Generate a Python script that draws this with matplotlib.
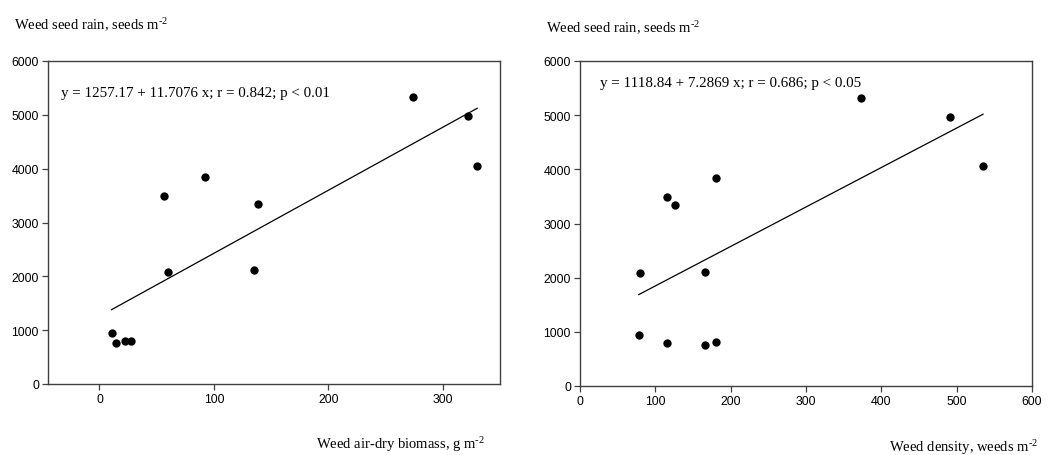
"""Weed seed rain vs weed biomass and weed density (two scatter panels with fit lines)."""
import numpy as np
import matplotlib
matplotlib.use("Agg")
import matplotlib.pyplot as plt

plt.rcParams["mathtext.fontset"] = "custom"
plt.rcParams["mathtext.rm"] = "Liberation Serif"
plt.rcParams["mathtext.it"] = "Liberation Serif:italic"

# --- data ---
seed_rain = [942, 756, 805, 805, 3494, 3842, 3346, 2082, 2113, 5322, 4976, 4052]
biomass = [10.5, 14.8, 22.6, 27.9, 56.6, 92.6, 138.5, 59.8, 134.8, 273.8, 321.7, 330.1]
seed_rain_d = [942, 760, 800, 810, 3489, 3834, 3341, 2080, 2110, 5311, 4971, 4056]
density = [78, 166, 116, 180, 116, 181, 126, 79, 166, 373, 491, 535]

# regression coefficients printed on the chart (intercept, slope)
fit_biomass = (1257.17, 11.7076)
fit_density = (1118.84, 7.2869)
eq_biomass = "y = 1257.17 + 11.7076 x; r = 0.842; p < 0.01"
eq_density = "y = 1118.84 + 7.2869 x; r = 0.686; p < 0.05"

W, H = 1050, 456
fig = plt.figure(figsize=(W / 100, H / 100), dpi=100)

SERIF = "Liberation Serif"
SANS = "Liberation Sans"
SUP = r"$^{\text{-}2}$"


def panel(rect, x, y, fit, eq, xlim, xticks, eq_pos):
    ax = fig.add_axes(rect)
    ax.scatter(x, y, s=36, color="black", zorder=3, linewidths=0)
    xs = np.array([min(x), max(x)])
    ax.plot(xs, fit[0] + fit[1] * xs, color="black", lw=0.9)
    ax.set_xlim(*xlim)
    ax.set_ylim(0, 6000)
    ax.set_xticks(xticks)
    ax.set_yticks(range(0, 6001, 1000))
    for sp in ax.spines.values():
        sp.set_color("0.25")
        sp.set_linewidth(1.0)
    ax.tick_params(direction="out", length=4, width=0.9, color="0.25",
                   labelsize=8.8, pad=2.5)
    for lab in ax.get_xticklabels() + ax.get_yticklabels():
        lab.set_fontfamily(SANS)
    ax.text(eq_pos[0], eq_pos[1], eq, transform=ax.transAxes,
            fontfamily=SERIF, fontsize=10.8, va="center", ha="left")
    return ax


panel([48 / W, (H - 385) / H, 452 / W, 323 / H], biomass, seed_rain,
      fit_biomass, eq_biomass, (-45, 350), [0, 100, 200, 300], (0.029, 0.901))
panel([580 / W, (H - 387) / H, 452 / W, 325 / H], density, seed_rain_d,
      fit_density, eq_density, (0, 600), range(0, 601, 100), (0.044, 0.935))

fig.text(14 / W, 1 - 25 / H, "Weed seed rain, seeds m" + SUP,
         fontfamily=SERIF, fontsize=10.5, va="center", ha="left")
fig.text(546 / W, 1 - 28 / H, "Weed seed rain, seeds m" + SUP,
         fontfamily=SERIF, fontsize=10.5, va="center", ha="left")
fig.text(485 / W, 1 - 445 / H, "Weed air-dry biomass, g m" + SUP,
         fontfamily=SERIF, fontsize=10.5, va="center", ha="right")
fig.text(1038 / W, 1 - 448 / H, "Weed density, weeds m" + SUP,
         fontfamily=SERIF, fontsize=10.5, va="center", ha="right")

fig.savefig("out.png", dpi=100)
